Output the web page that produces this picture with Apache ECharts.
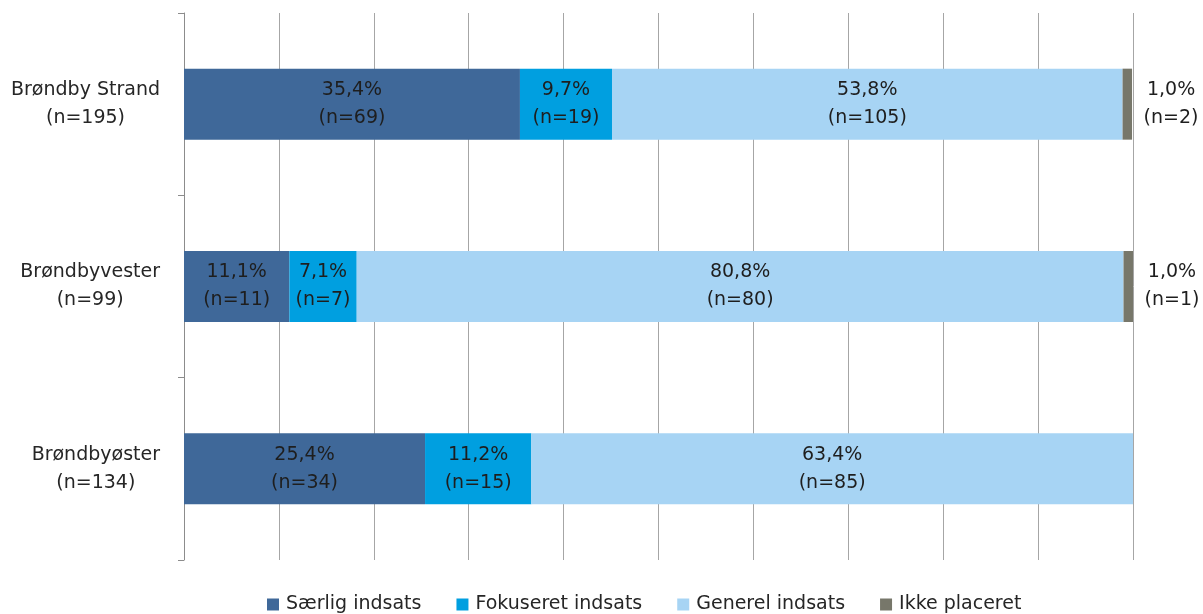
<!DOCTYPE html>
<html>
<head>
<meta charset="utf-8">
<script src="https://cdn.jsdelivr.net/npm/echarts@6/dist/echarts.min.js"></script>
<style>html,body{margin:0;padding:0;background:#fff}#c{width:1203px;height:614px}</style>
</head>
<body>
<div id="c"></div>
<script>
var categories = ['Brøndby Strand', 'Brøndbyvester', 'Brøndbyøster'];
var categoryN = [195, 99, 134];
var seriesNames = ['Særlig indsats', 'Fokuseret indsats', 'Generel indsats', 'Ikke placeret'];
var saerligPct = [35.4, 11.1, 25.4];
var fokuseretPct = [9.7, 7.1, 11.2];
var generelPct = [53.8, 80.8, 63.4];
var ikkePct = [1.0, 1.0, null];
var saerligN = [69, 11, 34];
var fokuseretN = [19, 7, 15];
var generelN = [105, 80, 85];
var ikkeN = [2, 1, null];
var colors = ['#3F6899', '#009FE0', '#A7D4F4', '#77776A'];

var FONT = 'DejaVu Sans';
function fmt(nArr) {
  return function (p) {
    if (p.value == null) return '';
    return p.value.toFixed(1).replace('.', ',') + '%\n(n=' + nArr[p.dataIndex] + ')';
  };
}
var pctArrs = [saerligPct, fokuseretPct, generelPct, ikkePct];
var nArrs = [saerligN, fokuseretN, generelN, ikkeN];
var series = pctArrs.map(function (arr, i) {
  var outside = i === 3;
  return {
    name: seriesNames[i],
    type: 'bar',
    stack: 'total',
    data: arr,
    barWidth: 71,
    itemStyle: { color: colors[i] },
    label: {
      show: true,
      position: outside ? 'right' : 'inside',
      distance: 14,
      formatter: fmt(nArrs[i]),
      fontFamily: FONT,
      fontSize: 19,
      lineHeight: 28,
      color: '#1E1E1E',
      align: 'center',
      offset: outside ? [25, 0] : [0, 0]
    }
  };
});

var chart = echarts.init(document.getElementById('c'));
chart.setOption({
  animation: false,
  color: colors,
  grid: { left: 184, right: 70, top: 13, bottom: 54 },
  legend: {
    data: seriesNames,
    left: 262,
    top: 590,
    itemWidth: 12,
    itemHeight: 12,
    itemGap: 35,
    icon: 'rect',
    textStyle: { fontFamily: FONT, fontSize: 19, color: '#262626', padding: [0, 0, 0, 2] }
  },
  xAxis: {
    type: 'value',
    min: 0,
    max: 100,
    interval: 10,
    axisLabel: { show: false },
    axisLine: { show: false },
    axisTick: { show: false },
    splitLine: { show: true, lineStyle: { color: '#A6A6A6', width: 1 } }
  },
  yAxis: {
    type: 'category',
    inverse: true,
    data: categories,
    axisLine: { show: true, lineStyle: { color: '#8C8C8C' } },
    axisTick: { show: true, length: 6, lineStyle: { color: '#8C8C8C' } },
    axisLabel: {
      margin: 24,
      align: 'right',
      formatter: function (v, idx) {
        return '{c|' + v + '}\n{c|(n=' + categoryN[idx] + ')}';
      },
      rich: {
        c: { align: 'center', fontFamily: FONT, fontSize: 19, lineHeight: 28, color: '#262626' }
      }
    }
  },
  series: series
});
</script>
</body>
</html>
